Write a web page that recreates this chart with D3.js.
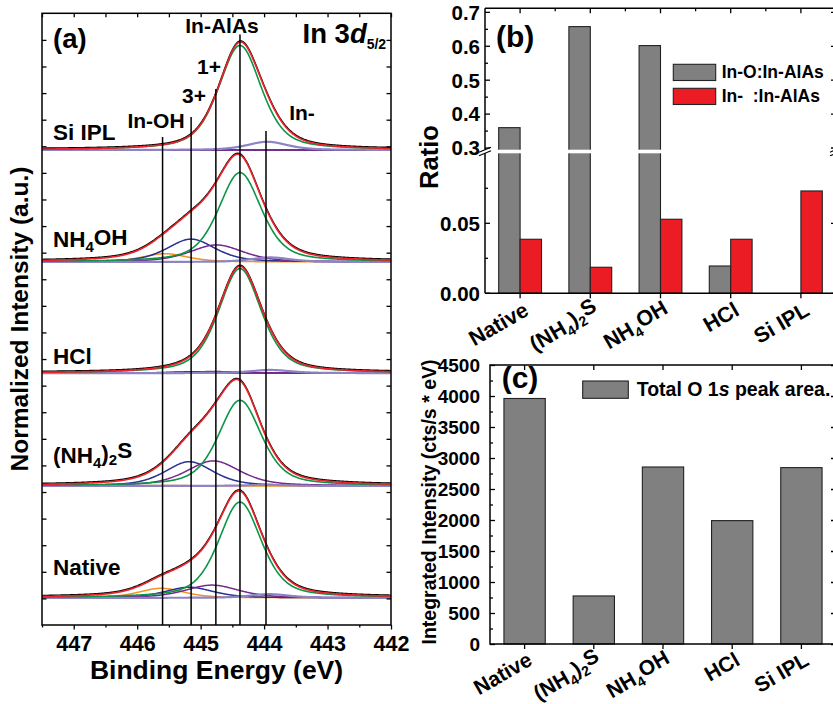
<!DOCTYPE html>
<html><head><meta charset="utf-8">
<script src="https://cdn.jsdelivr.net/npm/d3@7"></script>
<style>
body{margin:0;background:#fff}
svg text{font-family:"Liberation Sans",Arial,Helvetica,sans-serif;font-weight:bold;fill:#000}
</style></head><body>
<svg id="chart" width="833" height="704" xmlns="http://www.w3.org/2000/svg"></svg>
<script>
// ================= DATA =================
// panels (b) and (c): treatments
const categories   = ["Native","(NH4)2S","NH4OH","HCl","Si IPL"];
const ratioInO     = [0.360, 0.658, 0.602, 0.0195, 0.000];   // In-O : In-AlAs
const ratioInMinus = [0.0386, 0.0186, 0.0529, 0.0386, 0.0731]; // In- : In-AlAs
const o1sArea      = [3960, 775, 2855, 1990, 2845];          // Total O 1s peak area
const ratioUpperTicks = [0.3, 0.4, 0.5, 0.6, 0.7];
const ratioUpperMinor = [0.35, 0.45, 0.55, 0.65];
const ratioLowerTicks = [0.00, 0.05];
const ratioLowerMinor = [0.025, 0.075];
const areaTicks    = [0, 500, 1000, 1500, 2000, 2500, 3000, 3500, 4000, 4500];
const areaMinor    = [250, 750, 1250, 1750, 2250, 2750, 3250, 3750, 4250];

// panel (a): In 3d5/2 spectra, stacked bottom -> top
const energyTicks  = [447, 446, 445, 444, 443, 442];
const energyMinor  = [447.5, 446.5, 445.5, 444.5, 443.5, 442.5];
const stackSamples = ["Native", "(NH4)2S", "HCl", "NH4OH", "Si IPL"];
const stackOffsets = [1.02, 5.23, 9.47, 13.65, 17.86];   // baseline of each spectrum (a.u.)
// fitted components per spectrum: [centre (eV), height (a.u.)]
const peakInOH    = [[445.62,0.36],[445.60,0.02],[445.60,0.00],[445.56,0.31],[445.60,0.00]];
const peak3plus   = [[445.18,0.40],[445.18,0.91],[445.15,0.05],[445.15,0.86],[445.15,0.00]];
const peak1plus   = [[444.82,0.48],[444.80,0.94],[444.80,0.06],[444.75,0.64],[444.80,0.00]];
const peakInAlAs  = [[444.38,3.60],[444.38,3.22],[444.38,3.93],[444.38,3.36],[444.38,3.93]];
const peakInMinus = [[443.92,0.14],[443.95,0.04],[443.90,0.12],[443.90,0.17],[443.95,0.31]];
const peakFWHM    = {InOH:0.85, p3:0.90, p1:1.00, InAlAs:0.80, InMinus:0.75};
// reference lines in (a)
const refLineEnergies = [445.60, 445.15, 444.76, 444.38, 443.97];
const refLineTops     = [18.35, 19.10, 20.15, 22.20, 18.57];
const refLabels       = ["In-OH", "3+", "1+", "In-AlAs", "In-"];

// ================= HELPERS =================
const svg = d3.select("#chart");
const subParts = {
  "(NH4)2S": [["(NH",0],["4",1],[")",0],["2",1],["S",0]],
  "NH4OH":   [["NH",0],["4",1],["OH",0]]
};
function richText(t, label, subSize){
  const parts = subParts[label] || [[label,0]];
  let shifted = false;
  parts.forEach(([s,sub])=>{
    const ts = t.append("tspan").text(s);
    if(sub && !shifted){ ts.attr("dy","0.33em").style("font-size",subSize); shifted=true; }
    else if(sub){ ts.style("font-size",subSize); }
    else if(!sub && shifted){ ts.attr("dy","-0.33em"); shifted=false; }
  });
}
function styleAxis(g, size){
  g.attr("font-family",null).attr("font-size",null);
  g.selectAll("text").filter(function(){ return !this.textContent; }).remove();
  g.selectAll("text").style("font-size",size+"px").attr("fill","#000");
  g.selectAll("line").attr("stroke","#000").attr("stroke-width",1.3);
  g.select(".domain").remove();
}

// ================= PANEL (a) =================
const A = {l:42, r:391, t:13.3, b:625};
const xA = d3.scaleLinear().domain([447.5,442]).range([A.l,A.r]);
const yA = d3.scaleLinear().domain([0,23]).range([A.b,A.t]);
function gl(e,c,h,w){ const d=(e-c)/w; return h*(0.5*Math.exp(-4*Math.LN2*d*d)+0.5/(1+4*d*d)); }
const grid = d3.range(442,447.5001,0.01);

svg.append("clipPath").attr("id","clipA").append("rect")
  .attr("x",A.l).attr("y",A.t).attr("width",A.r-A.l).attr("height",A.b-A.t);
const gA = svg.append("g").attr("clip-path","url(#clipA)");

const compDefs = [
  {arr:peakInOH,   w:peakFWHM.InOH,    color:"#f39322", sw:1.5},
  {arr:peak3plus,  w:peakFWHM.p3,      color:"#2b3192", sw:1.5},
  {arr:peak1plus,  w:peakFWHM.p1,      color:"#76288e", sw:1.5},
  {arr:peakInMinus,w:peakFWHM.InMinus, color:"#8d84c6", sw:2.2},
  {arr:peakInAlAs, w:peakFWHM.InAlAs,  color:"#0d9448", sw:1.6}
];
stackSamples.forEach((name,i)=>{
  const off = stackOffsets[i];
  const line = d3.line().x(d=>xA(d[0])).y(d=>yA(d[1])).curve(d3.curveLinear);
  compDefs.forEach(cd=>{
    const [c,h] = cd.arr[i];
    const pts = grid.map(e=>[e, off + gl(e,c,h,cd.w)]);
    gA.append("path").attr("d",line(pts)).attr("fill","none")
      .attr("stroke",cd.color).attr("stroke-width",cd.sw);
  });
  const env = grid.map(e=>[e, off + compDefs.reduce((s,cd)=>s+gl(e,cd.arr[i][0],cd.arr[i][1],cd.w),0)]);
  gA.append("path").attr("d",line(env)).attr("fill","none")
    .attr("stroke","#000").attr("stroke-width",1.4).attr("transform","translate(0,-1)");
  gA.append("path").attr("d",line(env)).attr("fill","none")
    .attr("stroke","#e8242b").attr("stroke-width",1.7);
});

// reference lines
refLineEnergies.forEach((e,i)=>{
  svg.append("line").attr("x1",xA(e)).attr("x2",xA(e))
    .attr("y1",A.b).attr("y2",yA(refLineTops[i]))
    .attr("stroke","#000").attr("stroke-width",1.5);
});
// reference labels
const refLabelPos = [[156,128],[194,103],[209,74],[222,33],[302,120]];
refLabels.forEach((s,i)=>{
  svg.append("text").attr("x",refLabelPos[i][0]).attr("y",refLabelPos[i][1])
    .attr("text-anchor","middle").style("font-size","21px").text(s);
});
// sample labels
const sampleLabelY = [575, 463, 364, 247, 140];
stackSamples.forEach((s,i)=>{
  const t = svg.append("text").attr("x",53).attr("y",sampleLabelY[i]).style("font-size","22.5px");
  richText(t, s, "15px");
});
// frame and ticks
svg.append("rect").attr("x",A.l).attr("y",A.t).attr("width",A.r-A.l).attr("height",A.b-A.t)
  .attr("fill","none").attr("stroke","#000").attr("stroke-width",1.5);
const axB = svg.append("g").attr("transform",`translate(0,${A.b})`)
  .call(d3.axisBottom(xA).tickValues(energyTicks).tickSize(4.5).tickSizeOuter(0).tickPadding(6).tickFormat(d3.format("d")));
styleAxis(axB,21.5);
const axBm = svg.append("g").attr("transform",`translate(0,${A.b})`)
  .call(d3.axisBottom(xA).tickValues(energyMinor).tickSize(2.5).tickSizeOuter(0).tickFormat(""));
styleAxis(axBm,21);
const axT = svg.append("g").attr("transform",`translate(0,${A.t})`)
  .call(d3.axisTop(xA).tickValues(energyTicks.concat(energyMinor)).tickSize(-4).tickSizeOuter(0).tickFormat(""));
styleAxis(axT,21);
const yTicksA = d3.range(1,23);
const axL = svg.append("g").attr("transform",`translate(${A.l},0)`)
  .call(d3.axisLeft(yA).tickValues(yTicksA).tickSize(-4.5).tickSizeOuter(0).tickFormat(""));
styleAxis(axL,21);
const axR = svg.append("g").attr("transform",`translate(${A.r},0)`)
  .call(d3.axisRight(yA).tickValues(yTicksA).tickSize(-4.5).tickSizeOuter(0).tickFormat(""));
styleAxis(axR,21);

svg.append("text").attr("x",53).attr("y",47.5).style("font-size","27.5px").text("(a)");
const t3d = svg.append("text").attr("x",302.5).attr("y",42.7).style("font-size","27.5px");
t3d.append("tspan").text("In 3");
t3d.append("tspan").style("font-style","italic").text("d");
t3d.append("tspan").attr("dy","6").style("font-size","14px").text("5/2");
svg.append("text").attr("transform","translate(28,319) rotate(-90)")
  .attr("text-anchor","middle").style("font-size","24.5px").text("Normalized Intensity (a.u.)");
svg.append("text").attr("x",216.5).attr("y",679).attr("text-anchor","middle")
  .style("font-size","26.5px").text("Binding Energy (eV)");

// ================= PANEL (b) =================
const B = {l:485, r:836, t:8.3, b:293.3, gapTop:149.7, gapBot:153.3};
const xB = d3.scaleBand().domain(categories).range([B.l,B.r]).paddingInner(0.39).paddingOuter(0.195);
const xBsub = d3.scaleBand().domain(["InO","InMinus"]).range([0,xB.bandwidth()]);
const yBlow = d3.scaleLinear().domain([0,0.1]).range([B.b,B.gapBot]);
const yBup  = d3.scaleLinear().domain([0.295,0.712]).range([B.gapTop,B.t]);
const yB = v => v<=0.1 ? yBlow(v) : yBup(v);

const seriesB = [
  {key:"InO", vals:ratioInO, fill:"#808080"},
  {key:"InMinus", vals:ratioInMinus, fill:"#ec1c24"}
];
seriesB.forEach(s=>{
  svg.append("g").selectAll("rect").data(categories.map((c,i)=>({c, v:s.vals[i]})).filter(d=>d.v>0))
    .join("rect")
    .attr("x",d=>xB(d.c)+xBsub(s.key)).attr("width",xBsub.bandwidth())
    .attr("y",d=>yB(d.v)).attr("height",d=>B.b-yB(d.v))
    .attr("fill",s.fill).attr("stroke","#222").attr("stroke-width",1.1);
});
// axis break gap
svg.append("rect").attr("x",B.l-1).attr("y",B.gapTop).attr("width",B.r-B.l+2).attr("height",B.gapBot-B.gapTop)
  .attr("fill","#fff");
// frame
[[B.l,B.t,B.r,B.t],[B.l,B.b,B.r,B.b],[B.l,B.t,B.l,B.gapTop],[B.l,B.gapBot,B.l,B.b],
 [B.r,B.t,B.r,B.gapTop],[B.r,B.gapBot,B.r,B.b]].forEach(s=>{
  svg.append("line").attr("x1",s[0]).attr("y1",s[1]).attr("x2",s[2]).attr("y2",s[3])
    .attr("stroke","#000").attr("stroke-width",1.5);
});
// break marks
[B.gapTop, B.gapBot].forEach(y=>{
  [B.l, B.r].forEach(x=>{
    svg.append("line").attr("x1",x-6).attr("y1",y+2.5).attr("x2",x+6).attr("y2",y-2.5)
      .attr("stroke","#000").attr("stroke-width",1.2);
  });
});
function yTicksB(scale, major, minor, fmt){
  [[B.l,1],[B.r,-1]].forEach(([x,dir])=>{
    major.forEach(v=>svg.append("line").attr("x1",x).attr("x2",x+dir*5).attr("y1",scale(v)).attr("y2",scale(v)).attr("stroke","#000").attr("stroke-width",1.3));
    minor.forEach(v=>svg.append("line").attr("x1",x).attr("x2",x+dir*3).attr("y1",scale(v)).attr("y2",scale(v)).attr("stroke","#000").attr("stroke-width",1.3));
  });
  major.forEach(v=>svg.append("text").attr("x",B.l-5).attr("y",scale(v)).attr("dy","0.36em")
    .attr("text-anchor","end").style("font-size","20.5px").text(fmt(v)));
}
yTicksB(yBup, ratioUpperTicks, ratioUpperMinor, d3.format(".1f"));
yTicksB(yBlow, ratioLowerTicks, ratioLowerMinor, d3.format(".2f"));
const axBb = svg.append("g").attr("transform",`translate(0,${B.b})`)
  .call(d3.axisBottom(xB).tickSize(5).tickSizeOuter(0).tickFormat(""));
styleAxis(axBb,20);
const midsB = categories.slice(1).map((c,i)=>(xB(categories[i])+xB(c))/2 + xB.bandwidth()/2);
categories.forEach(c=>svg.append("line").attr("x1",xB(c)+xB.bandwidth()/2).attr("x2",xB(c)+xB.bandwidth()/2)
  .attr("y1",B.t).attr("y2",B.t+5).attr("stroke","#000").attr("stroke-width",1.3));
midsB.forEach(x=>svg.append("line").attr("x1",x).attr("x2",x).attr("y1",B.t).attr("y2",B.t+3)
  .attr("stroke","#000").attr("stroke-width",1.3));
categories.forEach(c=>{
  const t = svg.append("text")
    .attr("transform",`translate(${xB(c)+xB.bandwidth()/2+10},${B.b+21}) rotate(-30)`)
    .attr("text-anchor","end").style("font-size","21.5px");
  richText(t,c,"14px");
});
svg.append("text").attr("x",496).attr("y",46.7).style("font-size","30px").text("(b)");
svg.append("text").attr("transform","translate(438,157) rotate(-90)")
  .attr("text-anchor","middle").style("font-size","25.5px").text("Ratio");
// legend (b)
const legB = [{fill:"#808080", label:"In-O:In-AlAs", y:64.3},{fill:"#ec1c24", label:"In-\u00a0\u00a0:In-AlAs", y:88.3}];
legB.forEach(l=>{
  svg.append("rect").attr("x",673.3).attr("y",l.y).attr("width",42.4).attr("height",16.2)
    .attr("fill",l.fill).attr("stroke","#222").attr("stroke-width",1.1);
  svg.append("text").attr("x",721.7).attr("y",l.y+14).style("font-size","17.5px").text(l.label);
});

// ================= PANEL (c) =================
const C = {l:490, r:836, t:365, b:644};
const xC = d3.scaleBand().domain(categories).range([C.l,C.r]).paddingInner(0.403).paddingOuter(0.2015);
const yC = d3.scaleLinear().domain([0,4500]).range([C.b,C.t]);
svg.append("g").selectAll("rect").data(categories.map((c,i)=>({c,v:o1sArea[i]})))
  .join("rect").attr("x",d=>xC(d.c)).attr("width",xC.bandwidth())
  .attr("y",d=>yC(d.v)).attr("height",d=>C.b-yC(d.v))
  .attr("fill","#808080").attr("stroke","#222").attr("stroke-width",1.1);
svg.append("rect").attr("x",C.l).attr("y",C.t).attr("width",C.r-C.l).attr("height",C.b-C.t)
  .attr("fill","none").attr("stroke","#000").attr("stroke-width",1.5);
const axCl = svg.append("g").attr("transform",`translate(${C.l},0)`)
  .call(d3.axisLeft(yC).tickValues(areaTicks).tickSize(-5).tickSizeOuter(0).tickPadding(10).tickFormat(d3.format("d")));
styleAxis(axCl,19);
const axClm = svg.append("g").attr("transform",`translate(${C.l},0)`)
  .call(d3.axisLeft(yC).tickValues(areaMinor).tickSize(-3).tickSizeOuter(0).tickFormat(""));
styleAxis(axClm,18);
const axCr = svg.append("g").attr("transform",`translate(${C.r},0)`)
  .call(d3.axisRight(yC).tickValues(areaTicks).tickSize(-5).tickSizeOuter(0).tickFormat(""));
styleAxis(axCr,18);
const axCb = svg.append("g").attr("transform",`translate(0,${C.b})`)
  .call(d3.axisBottom(xC).tickSize(5).tickSizeOuter(0).tickFormat(""));
styleAxis(axCb,18);
const axCt = svg.append("g").attr("transform",`translate(0,${C.t})`)
  .call(d3.axisTop(xC).tickSize(-5).tickSizeOuter(0).tickFormat(""));
styleAxis(axCt,18);
categories.forEach(c=>{
  const t = svg.append("text")
    .attr("transform",`translate(${xC(c)+xC.bandwidth()/2+9},${C.b+20}) rotate(-30)`)
    .attr("text-anchor","end").style("font-size","21px");
  richText(t,c,"14px");
});
svg.append("text").attr("x",501.7).attr("y",388).style("font-size","30px").text("(c)");
svg.append("text").attr("transform","translate(436,502) rotate(-90)")
  .attr("text-anchor","middle").style("font-size","19.5px").text("Integrated Intensity (cts/s * eV)");
svg.append("rect").attr("x",582.7).attr("y",381).attr("width",45.6).attr("height",17.3)
  .attr("fill","#808080").attr("stroke","#222").attr("stroke-width",1.1);
const legC = svg.append("text").attr("x",636.7).attr("y",395.7).style("font-size","19.5px");
legC.append("tspan").text("Total O 1");
legC.append("tspan").style("font-style","italic").text("s");
legC.append("tspan").text(" peak area.");
</script>
</body></html>
